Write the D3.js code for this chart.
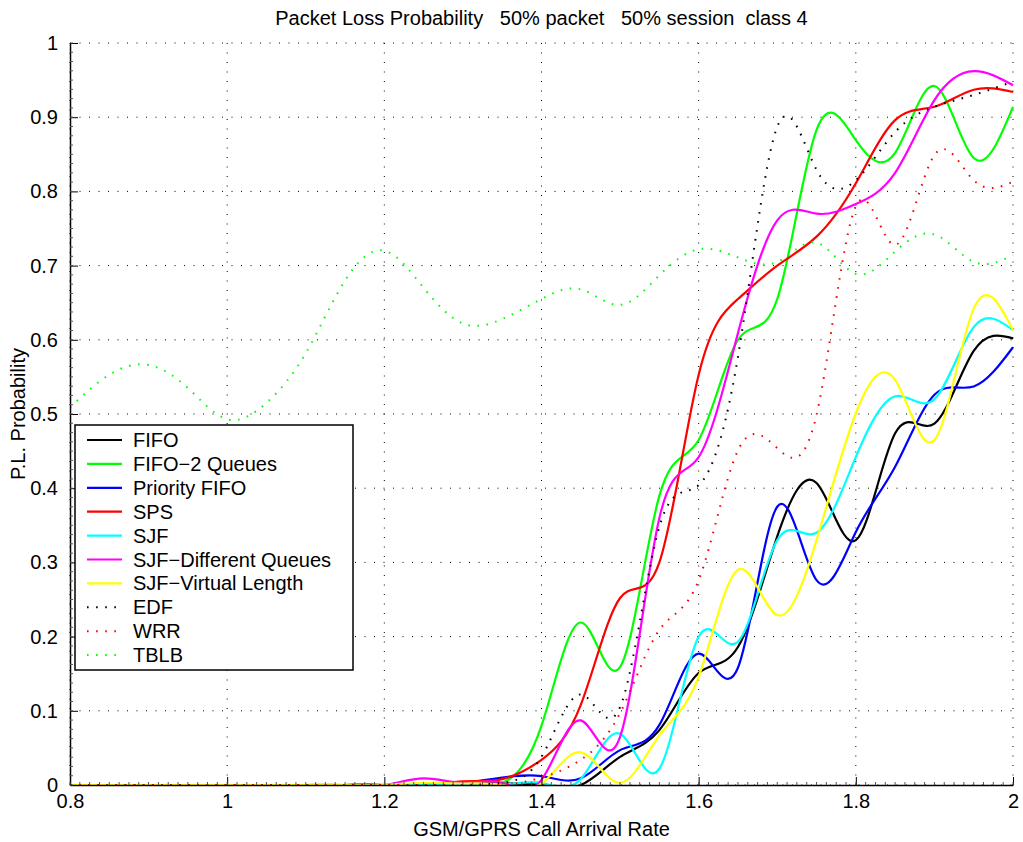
<!DOCTYPE html>
<html>
<head>
<meta charset="utf-8">
<script src="https://cdn.jsdelivr.net/npm/d3@7"></script>
<style>
  body { margin: 0; background: #fff; }
  text { font-family: "Liberation Sans", Arial, sans-serif; fill: #000; }
</style>
</head>
<body>
<div id="chart"></div>
<script>
// call arrival rate (x knots)
var rates = [0.8, 0.85, 0.9, 0.95, 1.0, 1.05, 1.1, 1.15, 1.2, 1.25, 1.3, 1.35, 1.4,
             1.45, 1.5, 1.55, 1.6, 1.65, 1.7, 1.75, 1.8, 1.85, 1.9, 1.95, 2.0];

var fifo      = [0,0,0,0,0,0,0,0,0,0, 0.003,0.002,0,     0,    0.038,0.074,0.151,0.186,0.335,0.407,0.33, 0.474,0.487,0.585,0.602];
var fifo2q    = [0,0,0,0,0,0,0,0,0,0, 0.002,0.003,0.08,  0.219,0.159,0.39, 0.465,0.6,  0.655,0.883,0.869,0.852,0.942,0.845,0.914];
var prioFifo  = [0,0,0,0,0,0,0,0,0,0, 0.003,0.01, 0.012, 0.009,0.047,0.081,0.177,0.158,0.375,0.276,0.341,0.429,0.526,0.537,0.59];
var sps       = [0,0,0,0,0,0,0,0,0,0, 0.005,0.008,0.034, 0.108,0.252,0.3,  0.553,0.655,0.70, 0.739,0.811,0.896,0.914,0.937,0.934];
var sjf       = [0,0,0,0,0,0,0,0,0,0, 0,    0,    0.003, 0.008,0.069,0.022,0.2,  0.193,0.33, 0.34, 0.442,0.524,0.52, 0.617,0.613];
var sjfDiffQ  = [0,0,0,0,0,0,0,0,0,0.009,0.003,0.003,0.007,0.087,0.065,0.36,0.442,0.609,0.761,0.77, 0.783,0.825,0.923,0.962,0.943];
var sjfVirt   = [0,0,0,0,0,0,0,0,0,0.003,0.002,0,   0.002, 0.044,0.003,0.067,0.146,0.29, 0.229,0.33, 0.501,0.546,0.465,0.642,0.613];
var edf       = [0,0,0,0,0,0,0,0,0,0, 0,    0.003,0.038, 0.122,0.105,0.348,0.404,0.577,0.887,0.829,0.815,0.88, 0.914,0.93, 0.948];
var wrr       = [0,0,0,0,0,0,0,0,0,0, 0,    0,    0.01,  0.034,0.097,0.209,0.276,0.451,0.454,0.499,0.78, 0.728,0.849,0.815,0.813];
var tblb      = [0.509,0.553,0.566,0.535,0.493,0.515,0.582,0.68,0.72,0.67,0.622,0.628,0.655,
                 0.668,0.647,0.687,0.722,0.711,0.705,0.731,0.689,0.719,0.742,0.705,0.714];

var names  = ["FIFO", "FIFO\u22122 Queues", "Priority FIFO", "SPS", "SJF",
              "SJF\u2212Different Queues", "SJF\u2212Virtual Length", "EDF", "WRR", "TBLB"];
var colors = ["#000000", "#00ff00", "#0000ff", "#ff0000", "#00ffff",
              "#ff00ff", "#ffff00", "#000000", "#ff0000", "#00ff00"];
var dotted = [false, false, false, false, false, false, false, true, true, true];
var seriesVals = [fifo, fifo2q, prioFifo, sps, sjf, sjfDiffQ, sjfVirt, edf, wrr, tblb];

var xTicks = [0.8, 1, 1.2, 1.4, 1.6, 1.8, 2];
var yTicks = [0, 0.1, 0.2, 0.3, 0.4, 0.5, 0.6, 0.7, 0.8, 0.9, 1];

var W = 1023, H = 842,
    margin = {top: 43, right: 10, bottom: 57, left: 70},
    width = W - margin.left - margin.right,
    height = H - margin.top - margin.bottom;

var x = d3.scaleLinear().domain([0.8, 2]).range([0, width]);
var y = d3.scaleLinear().domain([0, 1]).range([height, 0]);

var svg = d3.select("#chart").append("svg")
    .attr("width", W).attr("height", H);

var g = svg.append("g")
    .attr("transform", "translate(" + margin.left + "," + margin.top + ")");

// dotted grid
g.append("g").selectAll("line").data(xTicks).enter().append("line")
  .attr("x1", function(d) { return x(d); }).attr("x2", function(d) { return x(d); })
  .attr("y1", 0).attr("y2", height)
  .attr("stroke", "#000").attr("stroke-width", 1).attr("stroke-dasharray", "1,8.5");
g.append("g").selectAll("line").data(yTicks).enter().append("line")
  .attr("y1", function(d) { return y(d); }).attr("y2", function(d) { return y(d); })
  .attr("x1", 0).attr("x2", width)
  .attr("stroke", "#000").attr("stroke-width", 1).attr("stroke-dasharray", "1,8.5");

// curves
g.append("clipPath").attr("id", "clip").append("rect")
  .attr("x", 0).attr("y", -2).attr("width", width + 2).attr("height", height + 2);

var line = d3.line()
  .x(function(d, i) { return x(rates[i]); })
  .y(function(d) { return y(d); })
  .curve(d3.curveNatural);

g.append("g").attr("clip-path", "url(#clip)")
  .selectAll("path").data(seriesVals).enter().append("path")
  .attr("d", function(d) { return line(d); })
  .attr("fill", "none")
  .attr("stroke", function(d, i) { return colors[i]; })
  .attr("stroke-width", function(d, i) { return dotted[i] ? 2 : 2.2; })
  .attr("stroke-dasharray", function(d, i) { return dotted[i] ? "1.6,7.5" : null; });

// axes (ticks inward, no box)
var xAxis = d3.axisBottom(x).tickValues(xTicks).tickSizeInner(-8).tickSizeOuter(0)
  .tickPadding(9).tickFormat(function(d) { return d3.format("")(d); });
var yAxis = d3.axisLeft(y).tickValues(yTicks).tickSizeInner(-8).tickSizeOuter(0)
  .tickPadding(12).tickFormat(function(d) { return d3.format("")(d); });

var xg = g.append("g").attr("transform", "translate(0," + height + ")").call(xAxis);
var yg = g.append("g").call(yAxis);
[xg, yg].forEach(function(a) {
  a.selectAll("text").style("font-size", "20px").attr("fill", "#000");
  a.select(".domain").attr("stroke", "#000").attr("stroke-width", 1.5);
  a.selectAll(".tick line").attr("stroke", "#000");
});

// minor ticks
var xMinor = d3.range(0, 97).map(function(i) { return 0.8 + i * 0.0125; });
var yMinor = d3.range(0, 81).map(function(i) { return i * 0.0125; });
g.append("g").selectAll("line").data(xMinor).enter().append("line")
  .attr("x1", function(d) { return x(d); }).attr("x2", function(d) { return x(d); })
  .attr("y1", height).attr("y2", height - 3)
  .attr("stroke", "#555").attr("stroke-width", 1);
g.append("g").selectAll("line").data(yMinor).enter().append("line")
  .attr("y1", function(d) { return y(d); }).attr("y2", function(d) { return y(d); })
  .attr("x1", 0).attr("x2", 3)
  .attr("stroke", "#555").attr("stroke-width", 1);

// labels
svg.append("text").attr("x", margin.left + width / 2).attr("y", 25)
  .attr("text-anchor", "middle").style("font-size", "20px").style("white-space", "pre")
  .text("Packet Loss Probability   50% packet   50% session  class 4");
svg.append("text").attr("x", margin.left + width / 2).attr("y", 836)
  .attr("text-anchor", "middle").style("font-size", "20px")
  .text("GSM/GPRS Call Arrival Rate");
svg.append("text")
  .attr("transform", "translate(25," + (margin.top + height / 2) + ") rotate(-90)")
  .attr("text-anchor", "middle").style("font-size", "20px")
  .text("P.L. Probability");

// legend
var leg = svg.append("g").attr("transform", "translate(75,425)");
leg.append("rect").attr("width", 278).attr("height", 245)
  .attr("fill", "#fff").attr("stroke", "#000").attr("stroke-width", 1.5);
var item = leg.selectAll(".item").data(names).enter().append("g")
  .attr("transform", function(d, i) { return "translate(0," + (15 + i * 23.9) + ")"; });
item.append("line").attr("x1", 12).attr("x2", 47)
  .attr("stroke", function(d, i) { return colors[i]; })
  .attr("stroke-width", function(d, i) { return dotted[i] ? 2 : 2.2; })
  .attr("stroke-dasharray", function(d, i) { return dotted[i] ? "1.6,7.5" : null; });
item.append("text").attr("x", 58).attr("dy", "0.35em")
  .style("font-size", "20px").text(function(d) { return d; });
</script>
</body>
</html>
